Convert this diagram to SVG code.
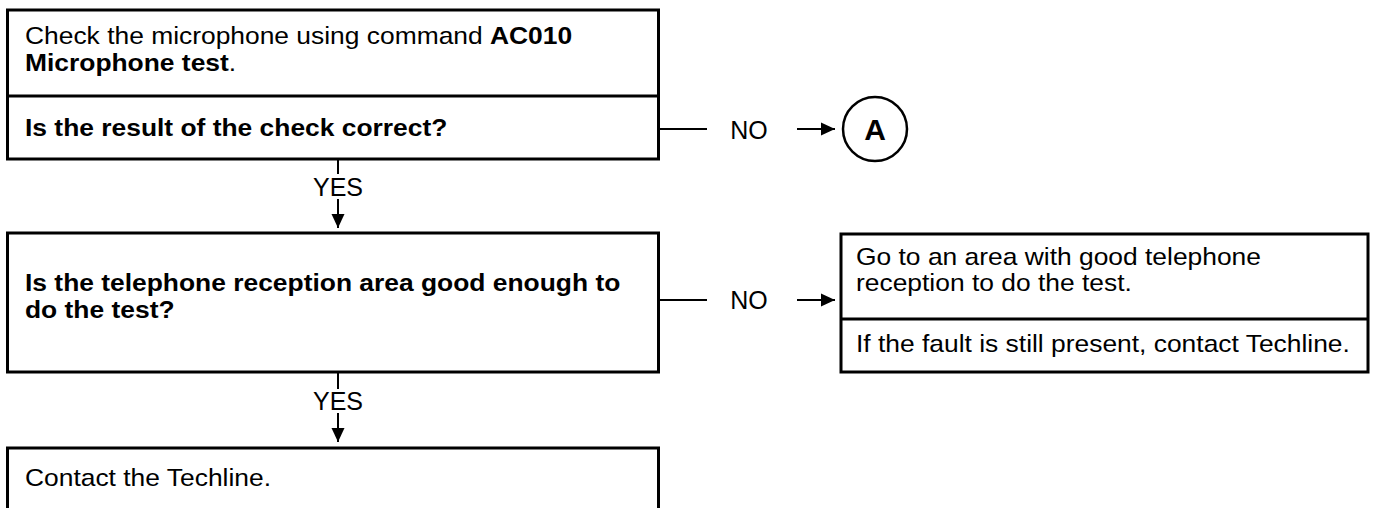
<svg xmlns="http://www.w3.org/2000/svg" width="1373" height="508" viewBox="0 0 1373 508">
<style>
.box{fill:#fff;stroke:#000;stroke-width:3}
.div{stroke:#000;stroke-width:3}
.t{font-family:"Liberation Sans",Arial,sans-serif;font-size:24px;fill:#000}
.b{font-weight:bold}
.c{stroke:#000;stroke-width:2;fill:none}
.lbl{font-family:"Liberation Sans",Arial,sans-serif;font-size:25px;fill:#000;text-anchor:middle}
</style>
<defs>
<marker id="arr" viewBox="0 0 14 14" refX="14" refY="7" markerWidth="14" markerHeight="14" markerUnits="userSpaceOnUse" orient="auto">
<path d="M0,0.5 L14,7 L0,13.5 Z" fill="#000"/>
</marker>
</defs>
<g id="connectors">
<line class="c" x1="338" y1="159" x2="338" y2="174"/>
<line class="c" x1="338" y1="199" x2="338" y2="228" marker-end="url(#arr)"/>
<line class="c" x1="659" y1="129" x2="707" y2="129"/>
<line class="c" x1="797" y1="129" x2="835" y2="129" marker-end="url(#arr)"/>
<line class="c" x1="338" y1="372" x2="338" y2="389"/>
<line class="c" x1="338" y1="413" x2="338" y2="442" marker-end="url(#arr)"/>
<line class="c" x1="659" y1="300" x2="707" y2="300"/>
<line class="c" x1="797" y1="300" x2="835" y2="300" marker-end="url(#arr)"/>
<text class="lbl" x="338" y="196">YES</text>
<text class="lbl" x="749" y="139">NO</text>
<text class="lbl" x="338" y="410">YES</text>
<text class="lbl" x="749" y="309">NO</text>
</g>
<g id="node1">
<rect class="box" x="7.5" y="10" width="651" height="149"/>
<line class="div" x1="7.5" y1="96" x2="658.5" y2="96"/>
<text class="t" transform="matrix(1.1,0,0,1,25,44)">Check the microphone using command <tspan class="b">AC010</tspan></text>
<text class="t" transform="matrix(1.1,0,0,1,25,71)"><tspan class="b">Microphone test</tspan>.</text>
<text class="t b" transform="matrix(1.1,0,0,1,25,136)">Is the result of the check correct?</text>
</g>
<g id="nodeA">
<circle cx="875" cy="129" r="32" fill="#fff" stroke="#000" stroke-width="2.5"/>
<text class="lbl b" x="875" y="140" style="font-size:30px">A</text>
</g>
<g id="node2">
<rect class="box" x="7.5" y="233" width="651" height="139"/>
<text class="t b" transform="matrix(1.1,0,0,1,25,291)">Is the telephone reception area good enough to</text>
<text class="t b" transform="matrix(1.1,0,0,1,25,318)">do the test?</text>
</g>
<g id="node3">
<rect class="box" x="841" y="234" width="527" height="138"/>
<line class="div" x1="841" y1="319" x2="1368" y2="319"/>
<text class="t" transform="matrix(1.1,0,0,1,856,265)">Go to an area with good telephone</text>
<text class="t" transform="matrix(1.1,0,0,1,856,291)">reception to do the test.</text>
<text class="t" transform="matrix(1.1,0,0,1,856,352)">If the fault is still present, contact Techline.</text>
</g>
<g id="node4">
<rect class="box" x="7.5" y="448" width="651" height="80"/>
<text class="t" transform="matrix(1.1,0,0,1,25,486)">Contact the Techline.</text>
</g>
</svg>
